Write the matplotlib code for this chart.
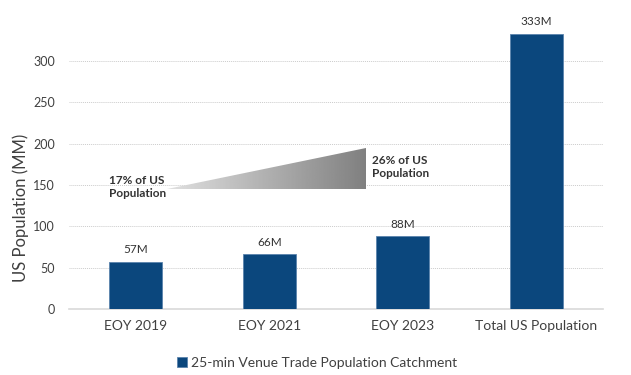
import matplotlib
matplotlib.use("Agg")
import matplotlib.pyplot as plt
import numpy as np
from matplotlib.patches import Polygon

plt.rcParams['font.family'] = ['Lato', 'DejaVu Sans']

categories = ["EOY 2019", "EOY 2021", "EOY 2023", "Total US Population"]
values = [57, 66, 88, 333]
bar_labels = ["57M", "66M", "88M", "333M"]
yticks = [0, 50, 100, 150, 200, 250, 300]
legend_label = "25-min Venue Trade Population Catchment"
bar_color = "#0b477d"

fig = plt.figure(figsize=(6.31, 3.75), dpi=100)
ax = fig.add_axes([69/631, 1-309/375, (603-69)/631, (309-19.7)/375])

x = np.arange(len(categories))
bars = ax.bar(x, values, width=0.4, color=bar_color, edgecolor="#5b84ad", linewidth=0.6,
              label=legend_label, zorder=3)
for xi, v, lab in zip(x, values, bar_labels):
    ax.text(xi, v + 8, lab, ha="center", va="bottom", fontsize=8.5, color="#333333")

ax.set_xlim(-0.5, 3.5)
ax.set_ylim(0, 350)
ax.set_yticks(yticks)
ax.set_xticks(x)
ax.set_xticklabels(categories, fontsize=10, color="#404040")
ax.tick_params(axis="y", labelsize=9, colors="#404040", length=0, pad=10)
ax.tick_params(axis="x", length=0, pad=8)
ax.yaxis.grid(True, linestyle=(0, (1, 1)), color="#cccccc", linewidth=0.7, zorder=0)
for s in ["top", "right", "left"]:
    ax.spines[s].set_visible(False)
ax.spines["bottom"].set_color("#d9d9d9")
ax.spines["bottom"].set_linewidth(1.2)
fig.text(21/631, 1-207.5/375, "US Population (MM)", fontsize=12, color="#404040",
         rotation=90, ha="center", va="center")

# gradient triangle
x0, x1 = 0.234, 1.725
yb, yt = 145, 195
grad = np.linspace(0.88, 0.5, 256).reshape(1, -1)
im = ax.imshow(grad, cmap="gray", vmin=0, vmax=1, aspect="auto",
               extent=[x0, x1, yb, yt], zorder=2)
tri = Polygon([[x0, yb], [x1, yb], [x1, yt]], closed=True, transform=ax.transData,
              facecolor="none", edgecolor="none")
ax.add_patch(tri)
im.set_clip_path(tri)
ax.set_xlim(-0.5, 3.5)
ax.set_ylim(0, 350)

ax.text(-0.2, 147.5, "17% of US\nPopulation", fontsize=8.5, fontweight="bold",
        color="#333333", ha="left", va="center", linespacing=1.15)
ax.text(1.77, 172, "26% of US\nPopulation", fontsize=8.5, fontweight="bold",
        color="#333333", ha="left", va="center", linespacing=1.15)

fig.legend(handles=[bars], labels=[legend_label], loc="center",
           bbox_to_anchor=(317/631, 1-363/375), frameon=False, fontsize=10,
           handlelength=0.7, handleheight=0.7, handletextpad=0.3,
           labelcolor="#404040")

fig.savefig("out.png", dpi=100)
